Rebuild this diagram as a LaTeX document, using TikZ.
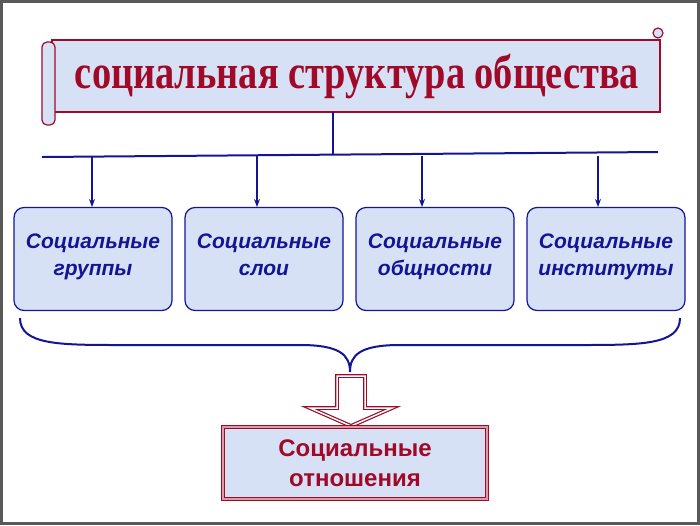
\documentclass[tikz,border=0pt]{standalone}
\usepackage{fontspec}
\usetikzlibrary{arrows.meta}
\setmainfont{Liberation Serif}
\setsansfont{Liberation Sans}
\definecolor{darkred}{RGB}{160,10,40}
\definecolor{navy}{RGB}{20,20,150}
\definecolor{paleblue}{RGB}{215,225,245}
\tikzset{
  kindbox/.style={draw=navy, line width=1.2pt, fill=paleblue, rounded corners=10pt,
    minimum width=158pt, minimum height=103pt, inner sep=0pt,
    font=\sffamily\bfseries\itshape\fontsize{21}{27}\selectfont, text=navy, align=center},
  link/.style={navy, line width=1.3pt},
}
\begin{document}
\begin{tikzpicture}[x=1pt,y=-1pt]
  \useasboundingbox (0,0) rectangle (700,525);
  \draw[gray!70!black, line width=3pt] (1.5,1.5) rectangle (698.5,523.5);
  % scroll
  \draw[darkred, line width=1.5pt, fill=paleblue] (52,40) rectangle (660,112);
  \draw[darkred, line width=1.2pt, fill=paleblue, rounded corners=5pt] (42,42) rectangle (55,125);
  \draw[darkred, line width=1.2pt, fill=paleblue] (658,33) circle (5);
  \node (title) at (357,76) {\color{darkred}\bfseries\fontsize{48}{48}\selectfont\scalebox{0.8}[1]{социальная структура общества}};
  % tree
  \coordinate (stem) at (333,112);
  \coordinate (bar) at (333,155);
  \draw[link] (stem) -- (bar);
  \draw[link, line width=2pt] (42,157) -- (658,152);
  \node[kindbox] (groups) at (93,259) {Социальные\\группы\strut};
  \node[kindbox] (layers) at (264,259) {Социальные\\слои\strut};
  \node[kindbox] (commun) at (435,259) {Социальные\\общности\strut};
  \node[kindbox] (instit) at (606,259) {Социальные\\институты\strut};
  \foreach \n/\x in {groups/92, layers/257, commun/422, instit/598}
    \draw[link, line width=1.2pt, -{Stealth[length=8pt,width=6pt]}] (\x,156) -- (\x,207);
  % brace
  \coordinate (tip) at (350,372);
  \draw[link, line width=2pt] (20,318) .. controls (20,345) and (60,345) .. (120,345)
    -- (300,345) .. controls (340,345) and (350,355) .. (tip);
  \draw[link, line width=2pt] (680,318) .. controls (680,345) and (640,345) .. (580,345)
    -- (400,345) .. controls (360,345) and (350,355) .. (tip);
  % hollow arrow
  \draw[darkred, line width=1.2pt, fill=white, double=white, double distance=1.5pt]
    (337,376) -- (365,376) -- (365,408) -- (392,408) -- (351,426) -- (310,408) -- (337,408) -- cycle;
  \node[draw=darkred, line width=1.2pt, double=darkred!40, double distance=2pt, fill=paleblue,
    minimum width=264pt, minimum height=72pt, align=center, text=darkred,
    font=\sffamily\bfseries\fontsize{24}{30}\selectfont] (rel) at (355,463) {Социальные\\отношения};
\end{tikzpicture}
\end{document}
